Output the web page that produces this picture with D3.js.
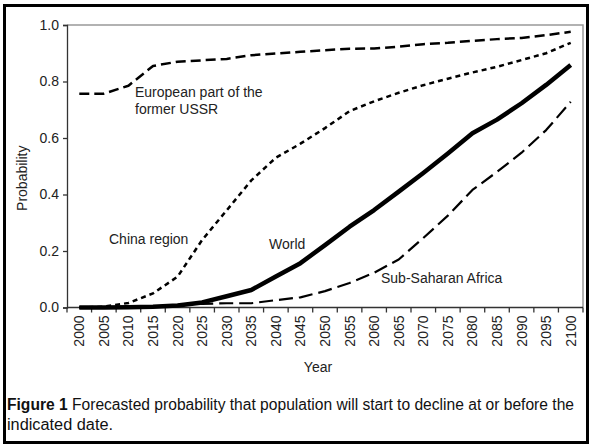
<!DOCTYPE html>
<html><head><meta charset="utf-8">
<script src="https://cdn.jsdelivr.net/npm/d3@7"></script>
<style>body{margin:0;background:#fff}svg{display:block}</style>
</head><body>
<script>
const years = [2000,2005,2010,2015,2020,2025,2030,2035,2040,2045,2050,2055,2060,2065,2070,2075,2080,2085,2090,2095,2100];
const ussr  = [0.757,0.757,0.785,0.855,0.870,0.875,0.880,0.893,0.899,0.905,0.911,0.916,0.917,0.923,0.932,0.937,0.944,0.950,0.954,0.964,0.976];
const china = [0.000,0.003,0.016,0.050,0.109,0.239,0.344,0.450,0.530,0.580,0.635,0.695,0.730,0.760,0.787,0.810,0.832,0.852,0.876,0.900,0.937];
const world = [0.000,0.000,0.001,0.003,0.007,0.018,0.040,0.062,0.110,0.157,0.221,0.286,0.345,0.410,0.476,0.545,0.617,0.665,0.723,0.788,0.858];
const ssa   = [0.000,0.001,0.002,0.004,0.008,0.013,0.015,0.015,0.026,0.036,0.058,0.087,0.123,0.170,0.246,0.325,0.416,0.480,0.548,0.628,0.728];
const yTicks = [0,0.2,0.4,0.6,0.8,1.0];
const labels = [
  {lines:["European part of the","former USSR"]},
  {lines:["China region"]},
  {lines:["World"]},
  {lines:["Sub-Saharan Africa"]}
];

const W=590,H=446;
const svg=d3.select("body").append("svg").attr("width",W).attr("height",H);
const L=67,R=583,T=25,B=307.5;
const xb=d3.scaleBand().domain(years).range([L,R]);
const x=d=>xb(d)+xb.bandwidth()/2;
const y=d3.scaleLinear().domain([0,1]).range([B,T]);
const font="Liberation Sans, Arial, sans-serif";

// frame
svg.append("rect").attr("x",4.5).attr("y",5.5).attr("width",583).attr("height",437)
  .attr("fill","none").attr("stroke","#000").attr("stroke-width",3);

// plot border (gray top/right)
svg.append("path").attr("d",`M${L},${T}H${R}V${B}`).attr("fill","none").attr("stroke","#999").attr("stroke-width",1.5);

// y axis
const ya=svg.append("g").attr("transform",`translate(${L},0)`)
  .call(d3.axisLeft(y).tickValues(yTicks).tickFormat(d3.format(".1f")).tickSize(4).tickPadding(4));
ya.select(".domain").attr("stroke","#333").attr("stroke-width",1.3);
ya.selectAll(".tick line").attr("stroke","#333").attr("stroke-width",1.3);
ya.selectAll("text").attr("font-family",font).attr("font-size",14).attr("fill","#222");

// x axis
const xa=svg.append("g").attr("transform",`translate(0,${B})`);
xa.append("line").attr("x1",L).attr("x2",R).attr("stroke","#333").attr("stroke-width",1.3);
xa.selectAll("line.t").data(years.concat(["end"])).enter().append("line")
  .attr("x1",d=>d==="end"?R:xb(d)).attr("x2",d=>d==="end"?R:xb(d)).attr("y1",0).attr("y2",5)
  .attr("stroke","#333").attr("stroke-width",1.3);
xa.selectAll("text").data(years).enter().append("text")
  .attr("transform",d=>`translate(${x(d)+5},8) rotate(-90)`)
  .attr("text-anchor","end").attr("font-family",font).attr("font-size",14).attr("fill","#222")
  .text(d=>d);

// axis titles
svg.append("text").attr("x",318).attr("y",372).attr("text-anchor","middle")
  .attr("font-family",font).attr("font-size",14).attr("fill","#222").text("Year");
svg.append("text").attr("transform",`translate(27,${(T+B)/2+12}) rotate(-90)`).attr("text-anchor","middle")
  .attr("font-family",font).attr("font-size",14).attr("fill","#222").text("Probability");

// lines
const line=d3.line().x((d,i)=>x(years[i])).y(d=>y(d));
const series=[
  {v:ussr, w:2.5, dash:"10,5"},
  {v:china,w:2.5, dash:"5,4"},
  {v:ssa,  w:2.2, dash:"14,6"},
  {v:world,w:4.5, dash:null}
];
series.forEach(s=>{
  svg.append("path").datum(s.v).attr("d",line).attr("fill","none").attr("stroke","#000")
    .attr("stroke-width",s.w).attr("stroke-dasharray",s.dash).attr("stroke-linejoin","round");
});

// labels
const lp={ "European part of the":[135,97], "China region":[109,244], "World":[269,249], "Sub-Saharan Africa":[381,283] };
labels.forEach(l=>{
  const p=lp[l.lines[0]];
  const t=svg.append("text").attr("font-family",font).attr("font-size",14).attr("fill","#222");
  l.lines.forEach((s,i)=>t.append("tspan").attr("x",p[0]).attr("y",p[1]+i*17).text(s));
});

// caption
const cf="Liberation Sans Narrow, Arial Narrow, sans-serif";
const c1=svg.append("text").attr("x",7).attr("y",410).attr("font-family",cf).attr("font-size",16).attr("fill","#111")
  .attr("textLength",567).attr("lengthAdjust","spacingAndGlyphs");
c1.append("tspan").attr("font-weight","bold").text("Figure 1");
c1.append("tspan").text(" Forecasted probability that population will start to decline at or before the");
svg.append("text").attr("x",7).attr("y",430).attr("font-family",cf).attr("font-size",16).attr("fill","#111")
  .attr("textLength",106).attr("lengthAdjust","spacingAndGlyphs")
  .text("indicated date.");
</script>
</body></html>
